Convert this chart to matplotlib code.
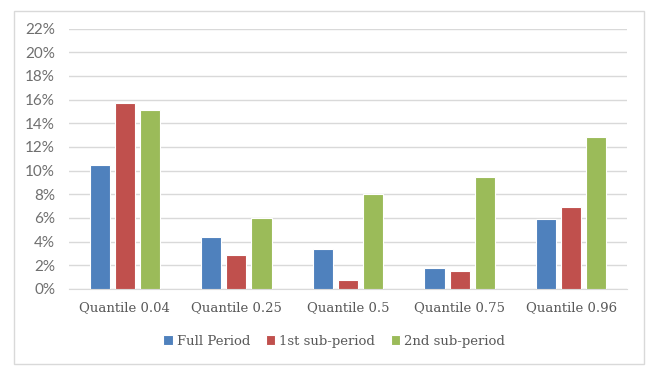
import matplotlib.pyplot as plt
import numpy as np
from matplotlib.patches import Rectangle
from matplotlib.ticker import FuncFormatter

# Data (percent)
categories = ["Quantile 0.04", "Quantile 0.25", "Quantile 0.5", "Quantile 0.75", "Quantile 0.96"]
full_period = [10.5, 4.35, 3.4, 1.8, 5.95]
first_sub = [15.7, 2.9, 0.8, 1.55, 6.9]
second_sub = [15.1, 6.0, 8.0, 9.5, 12.8]
series_names = ["Full Period", "1st sub-period", "2nd sub-period"]
colors = ["#4f81bd", "#c0504d", "#9bbb59"]

plt.rcParams["font.family"] = ["DejaVu Serif"]

fig = plt.figure(figsize=(6.52, 3.83), dpi=100)
ax = fig.add_axes([69 / 652, 1 - 289 / 383, (627 - 69) / 652, (289 - 28.5) / 383])

# outer chart border
fig.patches.append(Rectangle((14 / 652, 1 - 364 / 383), (644 - 14) / 652, (364 - 11) / 383,
                             transform=fig.transFigure, fill=False, edgecolor="#d9d9d9", linewidth=1))

x = np.arange(len(categories))
width = 0.18
offset = 0.225
for i, (vals, name, c) in enumerate(zip([full_period, first_sub, second_sub], series_names, colors)):
    ax.bar(x + (i - 1) * offset, vals, width, color=c, edgecolor="white", linewidth=0.8,
           label=name, zorder=3)

ax.set_xlim(-0.5, len(categories) - 0.5)
ax.set_ylim(0, 22)
ax.set_yticks(np.arange(0, 23, 2))
ax.yaxis.set_major_formatter(FuncFormatter(lambda v, p: f"{v:.0f}%"))
ax.set_xticks(x)
ax.set_xticklabels(categories)
ax.grid(axis="y", color="#d9d9d9", linewidth=1, zorder=0)
for s in ["top", "right", "left"]:
    ax.spines[s].set_visible(False)
ax.spines["bottom"].set_color("#d9d9d9")
ax.tick_params(axis="both", length=0, labelsize=9.5, colors="#595959")
ax.tick_params(axis="y", pad=10, colors="#6f6f6f")
ax.tick_params(axis="x", pad=9)
for lbl in ax.get_yticklabels():
    lbl.set_fontfamily("Lato")
    lbl.set_fontsize(11)

leg = ax.legend(loc="center", bbox_to_anchor=(0.475, -0.2), ncol=3, frameon=False,
                fontsize=9.5, handlelength=0.7, handleheight=0.7, columnspacing=1.2,
                handletextpad=0.3)
for t in leg.get_texts():
    t.set_color("#595959")

fig.savefig("out.png", dpi=100)
